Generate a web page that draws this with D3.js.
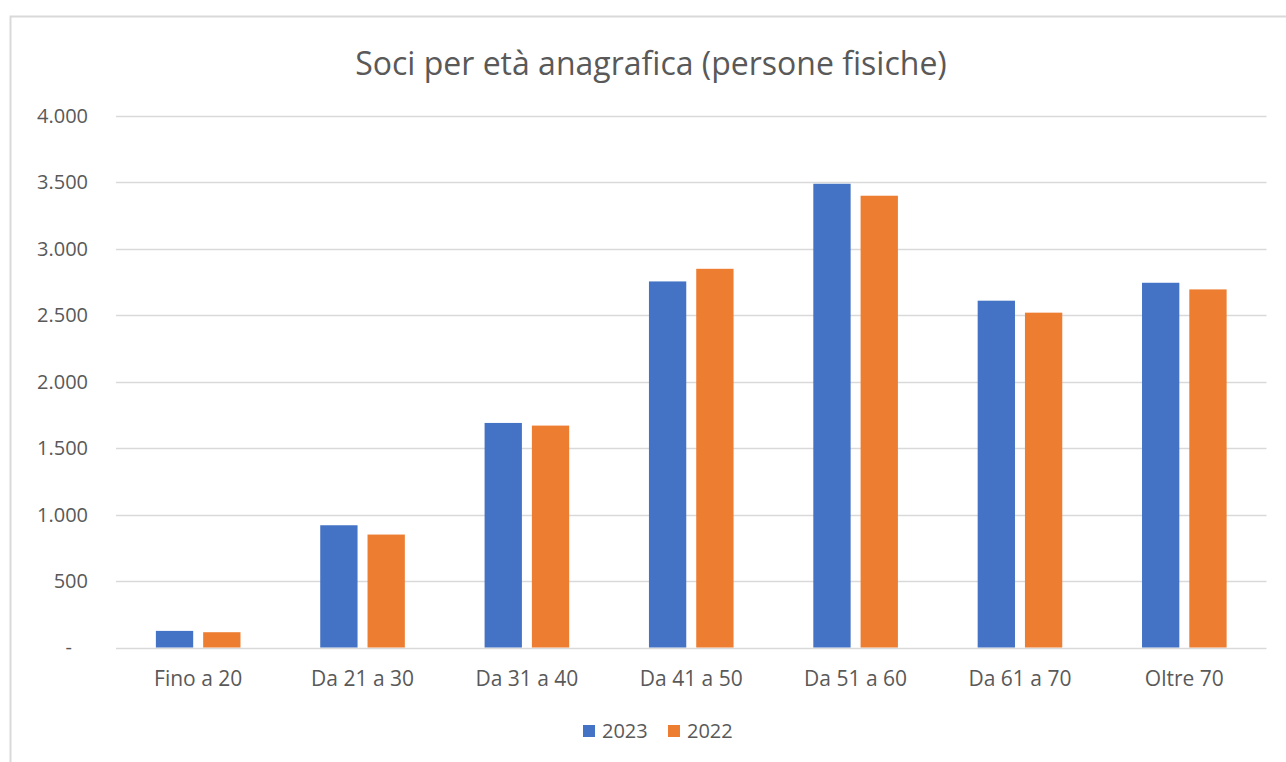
<!DOCTYPE html>
<html>
<head>
<meta charset="utf-8">
<script src="https://cdn.jsdelivr.net/npm/d3@7"></script>
<style>
  html, body { margin: 0; padding: 0; background: #fff; }
  svg { display: block; font-family: "Open Sans", "Noto Sans", sans-serif; }
</style>
</head>
<body>
<div id="chart"></div>
<script>
const categories = ["Fino a 20", "Da 21 a 30", "Da 31 a 40", "Da 41 a 50", "Da 51 a 60", "Da 61 a 70", "Oltre 70"];
const series = ["2023", "2022"];
const values2023 = [125, 920, 1690, 2755, 3490, 2610, 2745];
const values2022 = [115, 850, 1670, 2850, 3400, 2520, 2695];
const yTicks = [0, 500, 1000, 1500, 2000, 2500, 3000, 3500, 4000];
const colors = ["#4472C4", "#ED7D31"];

const width = 1286, height = 762;
const textColor = "#595959";

const svg = d3.select("#chart").append("svg")
  .attr("width", width)
  .attr("height", height);

// chart frame (cut off at right and bottom, like the picture)
svg.append("rect")
  .attr("x", 10.5).attr("y", 16.5)
  .attr("width", width + 20).attr("height", height + 20)
  .attr("fill", "#fff")
  .attr("stroke", "#d9d9d9")
  .attr("stroke-width", 2);

const x = d3.scaleBand()
  .domain(categories)
  .range([116, 1266.5])
  .padding(0);

const groupW = 84.6;
const xInner = d3.scaleBand()
  .domain(series)
  .range([0, groupW])
  .paddingInner(0.211);

const y = d3.scaleLinear()
  .domain([0, 4000])
  .range([647.5, 116]);

// gridlines
svg.append("g")
  .selectAll("line")
  .data(yTicks)
  .join("line")
  .attr("x1", x.range()[0])
  .attr("x2", x.range()[1])
  .attr("y1", d => Math.round(y(d)) + 0.5)
  .attr("y2", d => Math.round(y(d)) + 0.5)
  .attr("stroke", "#d9d9d9")
  .attr("stroke-width", 1.5);

// y axis labels
const fmt = d => d === 0 ? "-" : d3.format(",")(d).replace(/,/g, ".");
const yAxis = d3.axisLeft(y).tickValues(yTicks).tickFormat(fmt).tickSize(0).tickPadding(0);
const gy = svg.append("g")
  .attr("transform", "translate(88,0)")
  .call(yAxis);
gy.select(".domain").remove();
gy.selectAll("text")
  .attr("fill", textColor)
  .attr("font-size", 20)
  .attr("font-family", "Open Sans, Noto Sans, sans-serif");
gy.selectAll(".tick").filter(d => d === 0).select("text").attr("dx", -16);

// bars
const data = categories.map((c, i) => ({ cat: c, vals: [values2023[i], values2022[i]] }));
const groups = svg.append("g")
  .selectAll("g")
  .data(data)
  .join("g")
  .attr("transform", d => `translate(${x(d.cat) + x.bandwidth() / 2 - groupW / 2},0)`);

groups.selectAll("rect")
  .data(d => d.vals.map((v, j) => ({ s: series[j], v, j })))
  .join("rect")
  .attr("x", d => xInner(d.s))
  .attr("width", xInner.bandwidth())
  .attr("y", d => y(d.v))
  .attr("height", d => y(0) - y(d.v))
  .attr("fill", d => colors[d.j]);

// x axis labels
const xAxis = d3.axisBottom(x).tickSize(0).tickPadding(0);
const gx = svg.append("g")
  .attr("transform", "translate(0,671)")
  .call(xAxis);
gx.select(".domain").remove();
gx.selectAll("text")
  .attr("fill", textColor)
  .attr("font-size", 21)
  .attr("font-family", "Open Sans, Noto Sans, sans-serif");

// title
svg.append("text")
  .attr("x", 651)
  .attr("y", 75)
  .attr("text-anchor", "middle")
  .attr("fill", textColor)
  .attr("font-size", 32)
  .text("Soci per età anagrafica (persone fisiche)");

// legend
const legend = svg.append("g").attr("transform", "translate(583,731)");
const leg = legend.selectAll("g")
  .data(series)
  .join("g")
  .attr("transform", (d, i) => `translate(${i * 85},0)`);
leg.append("rect")
  .attr("x", 0).attr("y", -6)
  .attr("width", 12).attr("height", 12)
  .attr("fill", (d, i) => colors[i]);
leg.append("text")
  .attr("x", 19)
  .attr("y", 7)
  .attr("fill", textColor)
  .attr("font-size", 20)
  .text(d => d);
</script>
</body>
</html>
